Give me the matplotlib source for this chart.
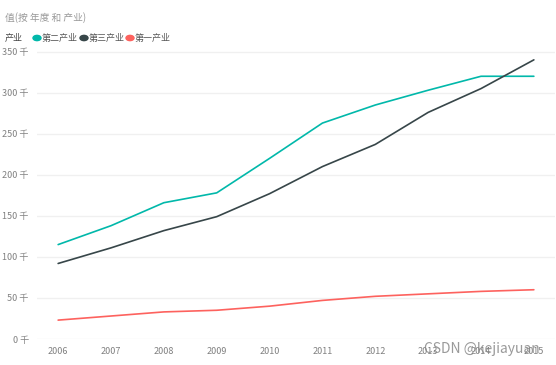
import matplotlib
matplotlib.use("Agg")
import matplotlib.pyplot as plt

plt.rcParams['font.family'] = ['Noto Sans CJK SC', 'DejaVu Sans']

years = [2006, 2007, 2008, 2009, 2010, 2011, 2012, 2013, 2014, 2015]
secondary = [115, 138, 166, 178, 220, 263, 285, 303, 320, 320]   # 第二产业
tertiary = [92, 111, 132, 149, 177, 210, 237, 276, 305, 340]     # 第三产业
primary = [23, 28, 33, 35, 40, 47, 52, 55, 58, 60]               # 第一产业
series_names = ['第二产业', '第三产业', '第一产业']
colors = ['#01B8AA', '#374649', '#FD625E']
yticks = [0, 50, 100, 150, 200, 250, 300, 350]
ytick_labels = [f'{v} 千' for v in yticks]

fig = plt.figure(figsize=(5.56, 3.65), dpi=100)
ax = fig.add_axes([37/556, 1-339/365, (555-37)/556, (339-50)/365])

for vals, c in zip([secondary, tertiary, primary], colors):
    ax.plot(years, vals, color=c, lw=1.2, solid_capstyle='round')

ax.set_xlim(2006-0.4, 2015+0.4)
ax.set_ylim(0, 352)
ax.set_yticks(yticks)
ax.set_yticklabels(ytick_labels)
ax.set_xticks(years)
ax.set_xticklabels([str(y) for y in years])
ax.grid(axis='y', color='#F0F0F0', lw=1)
ax.set_axisbelow(True)
for s in ax.spines.values():
    s.set_visible(False)
ax.tick_params(axis='both', length=0, colors='#808080', labelsize=6.5)
ax.tick_params(axis='y', pad=6)
ax.tick_params(axis='x', pad=6)

fig.text(5/556, 1-18/365, '值(按 年度 和 产业)', fontsize=7, color='#999999', va='center', ha='left')
fig.text(5/556, 1-38/365, '产业', fontsize=6.5, color='#444444', va='center', ha='left')
xs = [37, 84, 130]
for x, name, c in zip(xs, series_names, colors):
    fig.patches.append(plt.Circle((x/556, 1-38/365), 0.0072, transform=fig.transFigure,
                                  color=c, figure=fig))
    fig.text((x+5)/556, 1-38/365, name, fontsize=6.5, color='#555555', va='center', ha='left')

fig.text(424/556, 1-349/365, 'CSDN @kejiayuan', fontsize=10, color='#888888', va='center', ha='left',
         alpha=0.85)

fig.savefig('out.png', dpi=100)
